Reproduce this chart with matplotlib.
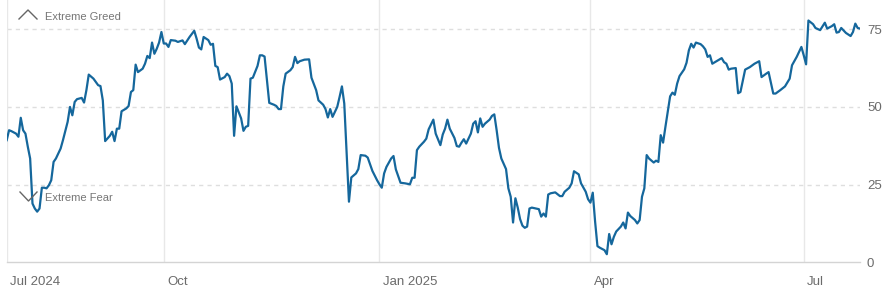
import matplotlib
matplotlib.use('Agg')
import matplotlib.pyplot as plt
import matplotlib.transforms as mtransforms
from matplotlib.lines import Line2D
import pandas as pd

# Fear & Greed index readings
dates = [
    '2024-07-26', '2024-07-27', '2024-07-28', '2024-07-30', '2024-07-31',
    '2024-08-01', '2024-08-02', '2024-08-03', '2024-08-04', '2024-08-05', '2024-08-06', '2024-08-07',
    '2024-08-08', '2024-08-09', '2024-08-10', '2024-08-11', '2024-08-12', '2024-08-13', '2024-08-14',
    '2024-08-15', '2024-08-16', '2024-08-18', '2024-08-19', '2024-08-21', '2024-08-22', '2024-08-23',
    '2024-08-24', '2024-08-25', '2024-08-27', '2024-08-28', '2024-08-29', '2024-08-30',
    '2024-09-01', '2024-09-03', '2024-09-04', '2024-09-05', '2024-09-06', '2024-09-08', '2024-09-09',
    '2024-09-10', '2024-09-11', '2024-09-12', '2024-09-13', '2024-09-15', '2024-09-16', '2024-09-17',
    '2024-09-18', '2024-09-19', '2024-09-20', '2024-09-22', '2024-09-23', '2024-09-24', '2024-09-25',
    '2024-09-26', '2024-09-27', '2024-09-28', '2024-09-29', '2024-09-30',
    '2024-10-01', '2024-10-02', '2024-10-03', '2024-10-04', '2024-10-06', '2024-10-07', '2024-10-09',
    '2024-10-10', '2024-10-12', '2024-10-14', '2024-10-15', '2024-10-16', '2024-10-17', '2024-10-18',
    '2024-10-20', '2024-10-21', '2024-10-22', '2024-10-23', '2024-10-24', '2024-10-25', '2024-10-27',
    '2024-10-28', '2024-10-29', '2024-10-30', '2024-10-31',
    '2024-11-01', '2024-11-03', '2024-11-04', '2024-11-05', '2024-11-06', '2024-11-07', '2024-11-08',
    '2024-11-10', '2024-11-11', '2024-11-12', '2024-11-13', '2024-11-15', '2024-11-17', '2024-11-18',
    '2024-11-19', '2024-11-20', '2024-11-21', '2024-11-22', '2024-11-24', '2024-11-25', '2024-11-26',
    '2024-11-27', '2024-11-28', '2024-11-30',
    '2024-12-02', '2024-12-03', '2024-12-05', '2024-12-06', '2024-12-08', '2024-12-09', '2024-12-10',
    '2024-12-11', '2024-12-12', '2024-12-14', '2024-12-15', '2024-12-16', '2024-12-17', '2024-12-18',
    '2024-12-19', '2024-12-20', '2024-12-22', '2024-12-23', '2024-12-24', '2024-12-26', '2024-12-27',
    '2024-12-28', '2024-12-29', '2024-12-31',
    '2025-01-01', '2025-01-02', '2025-01-03', '2025-01-04', '2025-01-06', '2025-01-07', '2025-01-08',
    '2025-01-10', '2025-01-12', '2025-01-14', '2025-01-15', '2025-01-16', '2025-01-17', '2025-01-18',
    '2025-01-20', '2025-01-21', '2025-01-22', '2025-01-24', '2025-01-25', '2025-01-27', '2025-01-28',
    '2025-01-29', '2025-01-30', '2025-01-31',
    '2025-02-02', '2025-02-03', '2025-02-04', '2025-02-05', '2025-02-06', '2025-02-07', '2025-02-09',
    '2025-02-10', '2025-02-11', '2025-02-12', '2025-02-13', '2025-02-14', '2025-02-15', '2025-02-17',
    '2025-02-18', '2025-02-19', '2025-02-20', '2025-02-21', '2025-02-22', '2025-02-24', '2025-02-25',
    '2025-02-26', '2025-02-27', '2025-02-28',
    '2025-03-01', '2025-03-02', '2025-03-03', '2025-03-04', '2025-03-05', '2025-03-06', '2025-03-07',
    '2025-03-10', '2025-03-11', '2025-03-12', '2025-03-13', '2025-03-14', '2025-03-15', '2025-03-17',
    '2025-03-19', '2025-03-20', '2025-03-21', '2025-03-23', '2025-03-24', '2025-03-25', '2025-03-27',
    '2025-03-28', '2025-03-30', '2025-03-31',
    '2025-04-01', '2025-04-02', '2025-04-03', '2025-04-04', '2025-04-05', '2025-04-07', '2025-04-08',
    '2025-04-09', '2025-04-10', '2025-04-11', '2025-04-12', '2025-04-14', '2025-04-15', '2025-04-16',
    '2025-04-17', '2025-04-18', '2025-04-20', '2025-04-21', '2025-04-22', '2025-04-23', '2025-04-24',
    '2025-04-25', '2025-04-26', '2025-04-28', '2025-04-29', '2025-04-30',
    '2025-05-01', '2025-05-02', '2025-05-03', '2025-05-04', '2025-05-05', '2025-05-06', '2025-05-07',
    '2025-05-08', '2025-05-09', '2025-05-11', '2025-05-12', '2025-05-13', '2025-05-14', '2025-05-15',
    '2025-05-16', '2025-05-18', '2025-05-19', '2025-05-20', '2025-05-21', '2025-05-22', '2025-05-23',
    '2025-05-25', '2025-05-27', '2025-05-28', '2025-05-29', '2025-05-30', '2025-05-31',
    '2025-06-02', '2025-06-03', '2025-06-04', '2025-06-06', '2025-06-08', '2025-06-10', '2025-06-12',
    '2025-06-13', '2025-06-15', '2025-06-16', '2025-06-18', '2025-06-19', '2025-06-21', '2025-06-23',
    '2025-06-25', '2025-06-26', '2025-06-28', '2025-06-30',
    '2025-07-01', '2025-07-02', '2025-07-03', '2025-07-05', '2025-07-06', '2025-07-08', '2025-07-10',
    '2025-07-11', '2025-07-13', '2025-07-14', '2025-07-15', '2025-07-16', '2025-07-17', '2025-07-19',
    '2025-07-21', '2025-07-22', '2025-07-23', '2025-07-24', '2025-07-25',
]

fg_index = [
    39.3, 42.5, 42.2, 41.4, 40.4,
    46.5, 42.5, 41.4, 37.2, 33.4, 18.9, 17.3,
    16.3, 17.3, 24.0, 24.0, 23.8, 24.8, 26.4,
    32.3, 33.4, 36.6, 39.3, 45.2, 50.0, 47.3,
    51.6, 52.5, 52.9, 51.4, 55.4, 60.4,
    59.1, 57.0, 56.7, 52.1, 39.0, 40.7, 42.0,
    39.0, 43.0, 43.0, 48.6, 49.5, 50.3, 54.8,
    55.4, 63.6, 61.2, 62.3, 63.9, 66.4, 65.7,
    70.7, 67.1, 68.7, 70.7, 74.1,
    70.4, 70.4, 69.3, 71.5, 71.3, 70.9, 71.4,
    70.2, 72.5, 74.5, 72.0, 69.1, 68.5, 72.5,
    71.5, 70.0, 70.3, 63.2, 62.8, 58.8, 59.6,
    60.7, 59.9, 57.5, 40.7,
    50.2, 46.3, 42.3, 43.6, 43.9, 59.1, 59.4,
    63.2, 66.6, 66.6, 66.2, 51.3, 50.7, 50.3,
    49.3, 49.3, 56.6, 60.7, 61.8, 62.8, 66.1,
    64.1, 64.7, 65.2,
    65.3, 59.4, 55.4, 52.1, 50.7, 49.3, 46.6,
    49.3, 46.8, 50.0, 53.2, 56.6, 51.1, 35.5,
    19.5, 27.3, 28.6, 30.0, 34.5, 34.3, 33.7,
    31.6, 29.4, 26.4,
    25.1, 24.0, 28.6, 30.7, 33.4, 34.2, 29.9,
    25.6, 25.4, 25.1, 27.2, 27.2, 36.1, 37.2,
    38.8, 39.8, 42.8, 45.9, 41.4, 37.7, 41.1,
    43.0, 45.9, 43.0,
    40.0, 37.4, 37.2, 38.5, 39.6, 38.2, 41.4,
    44.6, 45.4, 41.8, 46.3, 43.6, 44.6, 45.9,
    47.1, 47.6, 42.5, 36.8, 33.4, 30.0, 23.8,
    21.1, 12.8, 20.6,
    17.6, 13.9, 11.8, 11.1, 11.5, 17.3, 17.6,
    17.1, 14.7, 15.7, 14.7, 21.8, 22.2, 22.5,
    21.3, 21.3, 22.7, 24.0, 25.4, 29.3, 28.3,
    25.4, 22.7, 20.3,
    19.2, 22.4, 13.1, 5.2, 4.7, 3.9, 2.6,
    9.1, 5.8, 8.2, 9.9, 11.5, 12.8, 10.9,
    16.0, 14.9, 13.6, 12.5, 13.6, 21.1, 23.8,
    34.5, 33.4, 32.1, 32.7, 32.3,
    40.9, 38.5, 43.6, 48.4, 53.4, 54.6, 53.9,
    57.5, 59.9, 62.1, 64.2, 68.2, 70.3, 69.1,
    70.7, 70.2, 69.5, 68.5, 66.1, 66.6, 63.9,
    64.8, 65.7, 64.4, 63.9, 62.0, 62.3,
    62.5, 54.4, 54.8, 62.0, 62.8, 63.9, 64.7,
    59.6, 60.7, 61.2, 54.3, 54.3, 55.4, 56.6,
    59.1, 63.4, 66.1, 69.3,
    66.6, 63.7, 77.8, 76.6, 75.4, 74.7, 77.1,
    75.2, 76.0, 76.6, 73.9, 74.1, 75.4, 73.8,
    72.8, 74.1, 76.8, 75.4, 75.2,
]

y_ticks = [0, 25, 50, 75]
band_levels = [25, 50, 75]
x_tick_dates = ['2024-07-26', '2024-10-01', '2025-01-01', '2025-04-01', '2025-07-01']
x_tick_labels = ['Jul 2024', 'Oct', 'Jan 2025', 'Apr', 'Jul']

plt.rcParams['font.family'] = ['Liberation Sans', 'DejaVu Sans']

W, H = 886, 301
fig = plt.figure(figsize=(W / 100, H / 100), dpi=100)
ax = fig.add_axes([6.7 / W, (H - 262.3) / H, (860 - 6.7) / W, 262.3 / H])

x = pd.to_datetime(dates)
xt = pd.to_datetime(x_tick_dates)

ax.plot(x, fg_index, color='#15679c', lw=1.6, zorder=3)

ax.set_xlim(x[0], x[-1])
ax.set_ylim(0, 84.4)

for side in ['top', 'left', 'right']:
    ax.spines[side].set_visible(False)
ax.spines['bottom'].set_color('#d4d4d4')
ax.spines['bottom'].set_linewidth(1.0)

# grid
for lvl in band_levels:
    ax.axhline(lvl, color='#dedede', lw=1.0, ls=(0, (3, 3)), zorder=1)
for d in xt:
    ax.axvline(d, color='#e8e8e8', lw=1.0, zorder=1)

ax.yaxis.tick_right()
ax.set_yticks(y_ticks)
ax.set_xticks(xt)
ax.set_xticklabels(x_tick_labels)
ax.tick_params(axis='y', length=0, pad=5, labelsize=9.5, labelcolor='#6b6b6b')
ax.tick_params(axis='x', length=0, pad=10, labelsize=9.5, labelcolor='#6b6b6b')

shift = mtransforms.ScaledTranslation(3.5 / 100, 0, fig.dpi_scale_trans)
for lab in ax.get_xticklabels():
    lab.set_ha('left')
    lab.set_transform(lab.get_transform() + shift)

# zone markers
def px(xp, yp):
    return xp / W, 1 - yp / H

up = [px(19, 19), px(28, 10), px(37, 19)]
down = [px(20, 192), px(28.5, 201), px(37, 192)]
for pts in (up, down):
    fig.add_artist(Line2D([p[0] for p in pts], [p[1] for p in pts],
                          color='#666666', lw=1.0, transform=fig.transFigure))

fig.text(*px(45, 16.7), 'Extreme Greed', va='center', ha='left', fontsize=8, color='#767676')
fig.text(*px(45, 198), 'Extreme Fear', va='center', ha='left', fontsize=8, color='#767676')

plt.savefig('out.png', dpi=100)
